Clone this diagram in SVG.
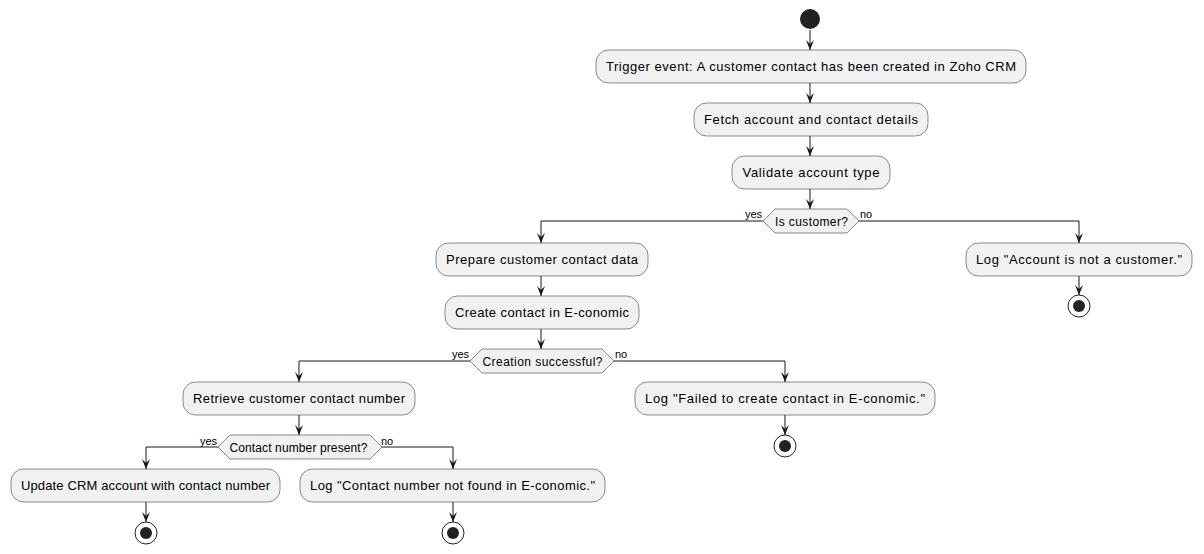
<svg xmlns="http://www.w3.org/2000/svg" width="1204" height="554" viewBox="0 0 1204 554">
<style>
.box{fill:#F1F1F1;stroke:#181818;stroke-width:0.5}
.t{font-family:"Liberation Sans",Arial,sans-serif;font-size:13px;fill:#000;text-anchor:middle}
.dt{font-family:"Liberation Sans",Arial,sans-serif;font-size:12px;fill:#000;text-anchor:middle}
.lb{font-family:"Liberation Sans",Arial,sans-serif;font-size:11px;fill:#000}
.ln{fill:none;stroke:#181818;stroke-width:1}
.ah{fill:#181818;stroke:#181818;stroke-width:1}
.endo{fill:#FFFFFF;stroke:#222222;stroke-width:1}
.endi{fill:#222222;stroke:none}
</style>
<defs>
<marker id="arr" viewBox="0 0 10 12" refX="10" refY="6" markerWidth="10" markerHeight="12" markerUnits="userSpaceOnUse" orient="auto">
<path d="M0,2 L10,6 L0,10 L4,6 Z" fill="#181818"/>
</marker>
</defs>
<g id="connectors">
<path class="ln" d="M810,30 V50" marker-end="url(#arr)"/>
<path class="ln" d="M810,83 V103" marker-end="url(#arr)"/>
<path class="ln" d="M810,136 V156" marker-end="url(#arr)"/>
<path class="ln" d="M810,189 V209" marker-end="url(#arr)"/>
<path class="ln" d="M763,221 H541 V243" marker-end="url(#arr)"/>
<path class="ln" d="M859,221 H1079 V243" marker-end="url(#arr)"/>
<path class="ln" d="M1079,276 V295" marker-end="url(#arr)"/>
<path class="ln" d="M541,276 V296" marker-end="url(#arr)"/>
<path class="ln" d="M541,329 V349" marker-end="url(#arr)"/>
<path class="ln" d="M470,361 H299 V382" marker-end="url(#arr)"/>
<path class="ln" d="M614,361 H785 V382" marker-end="url(#arr)"/>
<path class="ln" d="M785,415 V435" marker-end="url(#arr)"/>
<path class="ln" d="M299,415 V435" marker-end="url(#arr)"/>
<path class="ln" d="M218,447 H146 V469" marker-end="url(#arr)"/>
<path class="ln" d="M382,447 H453 V469" marker-end="url(#arr)"/>
<path class="ln" d="M146,502 V522" marker-end="url(#arr)"/>
<path class="ln" d="M453,502 V522" marker-end="url(#arr)"/>
<text class="lb" x="762" y="218" text-anchor="end">yes</text>
<text class="lb" x="860" y="218">no</text>
<text class="lb" x="469" y="358" text-anchor="end">yes</text>
<text class="lb" x="615" y="358">no</text>
<text class="lb" x="217" y="445" text-anchor="end">yes</text>
<text class="lb" x="381" y="445">no</text>
</g>
<g id="start"><circle cx="810" cy="19" r="10" fill="#222222"/></g>
<g id="trigger"><rect class="box" x="596" y="50" width="430" height="33" rx="12.5"/><text class="t" x="811" y="71" textLength="410">Trigger event: A customer contact has been created in Zoho CRM</text></g>
<g id="fetch"><rect class="box" x="694" y="103" width="234" height="33" rx="12.5"/><text class="t" x="811" y="124" textLength="214">Fetch account and contact details</text></g>
<g id="validate"><rect class="box" x="732" y="156" width="158" height="33" rx="12.5"/><text class="t" x="811" y="177" textLength="137">Validate account type</text></g>
<g id="is-customer"><polygon class="box" points="763,221 775,209 847,209 859,221 847,233 775,233"/><text class="dt" x="811.5" y="226" textLength="73">Is customer?</text></g>
<g id="prepare"><rect class="box" x="436" y="243" width="212" height="33" rx="12.5"/><text class="t" x="542" y="264" textLength="192">Prepare customer contact data</text></g>
<g id="log-account"><rect class="box" x="966" y="243" width="226" height="33" rx="12.5"/><text class="t" x="1079" y="264" textLength="206">Log "Account is not a customer."</text></g>
<g id="end-account"><circle class="endo" cx="1079" cy="306" r="11"/><circle class="endi" cx="1079" cy="306" r="6"/></g>
<g id="create"><rect class="box" x="445" y="296" width="194" height="33" rx="12.5"/><text class="t" x="542" y="317" textLength="174">Create contact in E-conomic</text></g>
<g id="creation-successful"><polygon class="box" points="470,361 482,349 602,349 614,361 602,373 482,373"/><text class="dt" x="542.5" y="365.5" textLength="120">Creation successful?</text></g>
<g id="retrieve"><rect class="box" x="183" y="382" width="232" height="33" rx="12.5"/><text class="t" x="299" y="403" textLength="212">Retrieve customer contact number</text></g>
<g id="log-failed"><rect class="box" x="635" y="382" width="300" height="33" rx="12.5"/><text class="t" x="785" y="403" textLength="280">Log "Failed to create contact in E-conomic."</text></g>
<g id="end-failed"><circle class="endo" cx="785" cy="446" r="11"/><circle class="endi" cx="785" cy="446" r="6"/></g>
<g id="contact-present"><polygon class="box" points="218,447 230,435 370,435 382,447 370,459 230,459"/><text class="dt" x="298.5" y="452" textLength="138">Contact number present?</text></g>
<g id="update"><rect class="box" x="11" y="469" width="269" height="33" rx="12.5"/><text class="t" x="145.5" y="490" textLength="249">Update CRM account with contact number</text></g>
<g id="log-contact"><rect class="box" x="300" y="469" width="305" height="33" rx="12.5"/><text class="t" x="452.5" y="490" textLength="285">Log "Contact number not found in E-conomic."</text></g>
<g id="end-update"><circle class="endo" cx="146" cy="533" r="11"/><circle class="endi" cx="146" cy="533" r="6"/></g>
<g id="end-contact"><circle class="endo" cx="453" cy="533" r="11"/><circle class="endi" cx="453" cy="533" r="6"/></g>
</svg>
